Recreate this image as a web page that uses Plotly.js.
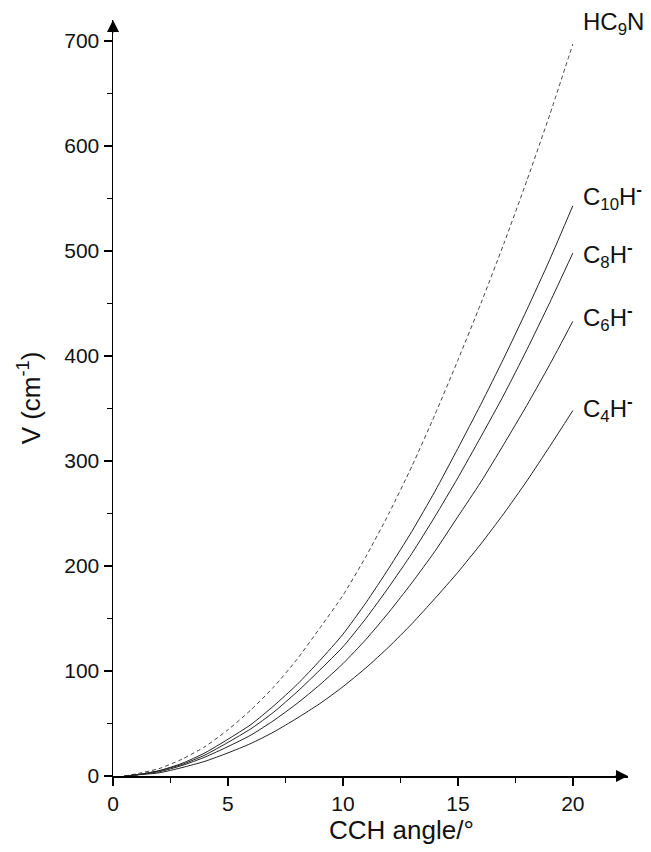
<!DOCTYPE html>
<html>
<head>
<meta charset="utf-8">
<script src="https://cdn.plot.ly/plotly-3.0.1.min.js"></script>
<style>html,body{margin:0;padding:0;background:#fff;}#chart{width:651px;height:852px;}</style>
</head>
<body>
<div id="chart"></div>
<script>
// CCH bending angle (degrees)
const angle = [0.5, 1, 2, 3, 4, 5, 6, 7, 8, 9, 10, 11, 12, 13, 14, 15, 16, 17, 18, 19, 20];
// Potential V (cm^-1)
const vHC9N  = [0, 2, 7, 16, 28, 44, 63, 85, 111, 141, 172, 209, 250, 295, 344, 396, 450, 507, 567, 630, 697];
const vC10H  = [0, 1, 5, 12, 22, 35, 49, 67, 87, 110, 135, 165, 198, 233, 271, 312, 354, 398, 444, 492, 543];
const vC8H   = [0, 1, 5, 11, 20, 32, 45, 61, 80, 101, 123, 150, 180, 212, 247, 284, 323, 363, 406, 451, 498];
const vC6H   = [0, 1, 4, 10, 18, 28, 39, 53, 69, 87, 107, 130, 156, 184, 214, 247, 280, 316, 353, 392, 433];
const vC4H   = [0, 1, 3, 8, 14, 22, 31, 42, 55, 69, 85, 103, 123, 145, 169, 194, 221, 250, 281, 314, 348];

const seriesNames = ["HC<sub>9</sub>N", "C<sub>10</sub>H<sup><b>-</b></sup>", "C<sub>8</sub>H<sup><b>-</b></sup>", "C<sub>6</sub>H<sup><b>-</b></sup>", "C<sub>4</sub>H<sup><b>-</b></sup>"];
const seriesValues = [vHC9N, vC10H, vC8H, vC6H, vC4H];
const labelY = [717, 551, 496, 436, 350];

const FONT = "Liberation Sans, Arial, Helvetica, sans-serif";

const traces = seriesValues.map((v, i) => ({
  x: angle,
  y: v,
  type: "scatter",
  mode: "lines",
  name: seriesNames[i],
  line: {
    color: i === 0 ? "#444" : "#222",
    width: 1,
    dash: i === 0 ? "4px,3px" : "solid",
    shape: "spline",
    smoothing: 0.6
  },
  hoverinfo: "skip",
  showlegend: false
}));

const annotations = seriesNames.map((n, i) => ({
  x: 20.35, y: labelY[i], xref: "x", yref: "y",
  text: n, showarrow: false, xanchor: "left", yanchor: "middle",
  font: {family: FONT, size: 24, color: "#111"}
}));

// axis arrowheads
annotations.push({
  x: 22.4, y: 0, xref: "x", yref: "y", ax: -14, ay: 0, text: "",
  showarrow: true, arrowhead: 2, arrowsize: 1.6, arrowwidth: 1.5, arrowcolor: "#000"
});
annotations.push({
  x: 0, y: 720, xref: "x", yref: "y", ax: 0, ay: 14, text: "",
  showarrow: true, arrowhead: 2, arrowsize: 1.6, arrowwidth: 1.5, arrowcolor: "#000"
});
// x axis title
annotations.push({
  x: (402 - 113) / (651 - 113 - 22.5), y: -(830 - 776) / 756, xref: "paper", yref: "paper",
  text: "CCH angle/°",
  showarrow: false, xanchor: "center", yanchor: "middle",
  font: {family: FONT, size: 26, color: "#111"}
});

const layout = {
  width: 651, height: 852,
  margin: {l: 113, r: 22.5, t: 20, b: 76},
  paper_bgcolor: "#fff", plot_bgcolor: "#fff",
  showlegend: false,
  xaxis: {
    range: [0, 22.4], dtick: 5, tick0: 0,
    showline: true, linecolor: "#000", linewidth: 1.5,
    ticks: "outside", ticklen: 8, tickwidth: 1.5, tickcolor: "#000",
    minor: {dtick: 2.5, tick0: 0, ticks: "outside", ticklen: 5, tickwidth: 1.5, tickcolor: "#000", showgrid: false},
    showgrid: false, zeroline: false,
    tickfont: {family: FONT, size: 21, color: "#111"},
    title: {text: ""}
  },
  yaxis: {
    range: [0, 720], dtick: 100, tick0: 0,
    showline: true, linecolor: "#000", linewidth: 1.5,
    ticks: "outside", ticklen: 8, tickwidth: 1.5, tickcolor: "#000",
    minor: {dtick: 50, tick0: 0, ticks: "outside", ticklen: 5, tickwidth: 1.5, tickcolor: "#000", showgrid: false},
    showgrid: false, zeroline: false,
    tickfont: {family: FONT, size: 21, color: "#111"},
    title: {text: "V (cm<sup>-1</sup>)", font: {family: FONT, size: 26, color: "#111"}, standoff: 16}
  },
  annotations: annotations
};

Plotly.newPlot("chart", traces, layout, {displayModeBar: false, staticPlot: true});
</script>
</body>
</html>
